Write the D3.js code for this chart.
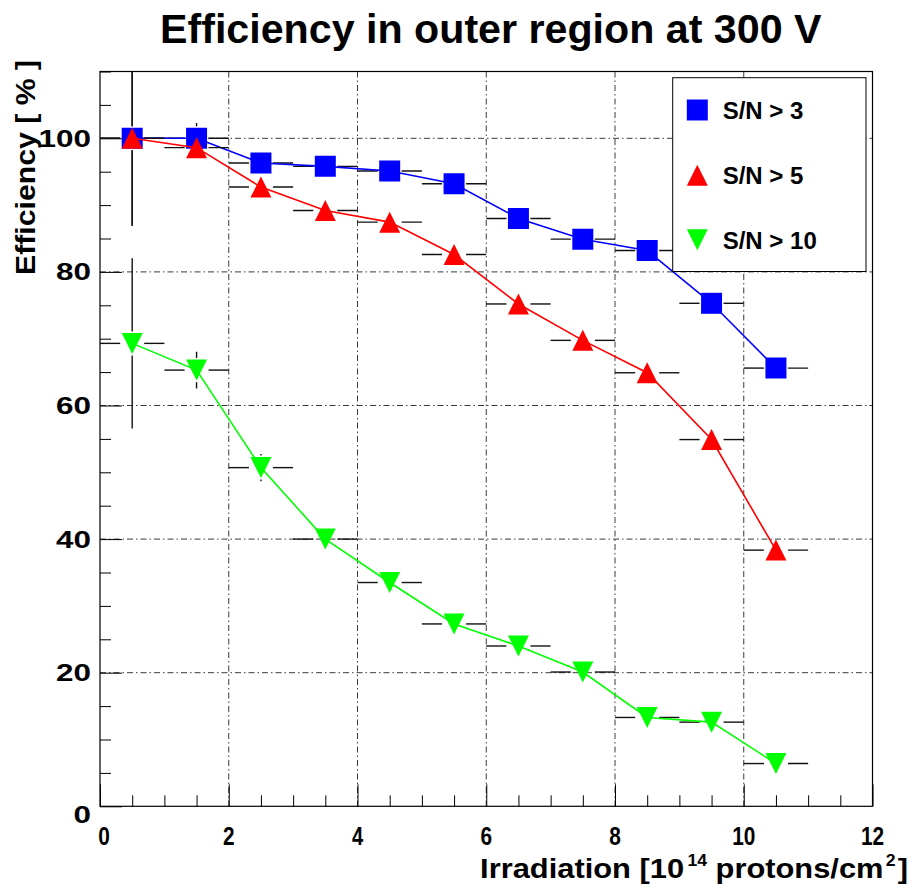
<!DOCTYPE html>
<html><head><meta charset="utf-8">
<script src="https://cdn.jsdelivr.net/npm/d3@7"></script>
<style>body{margin:0;background:#fff}</style>
</head><body>
<svg id="c" width="914" height="893" xmlns="http://www.w3.org/2000/svg"></svg>
<script>
// ---------------- data ----------------
const irradiation = [0.5, 1.5, 2.5, 3.5, 4.5, 5.5, 6.5, 7.5, 8.5, 9.5, 10.5];
const irradiationErr = [0.5, 0.5, 0.5, 0.5, 0.5, 0.5, 0.5, 0.5, 0.5, 0.5, 0.5];
const effSN3  = [100, 100, 96.3, 95.8, 95.1, 93.2, 88.0, 84.9, 83.2, 75.3, 65.6];
const effSN3Err  = [13.1, 2.3, 0.8, 0.8, 0.8, 0.8, 0.8, 0.8, 0.8, 0.8, 0.8];
const effSN5  = [100, 98.6, 92.7, 89.2, 87.45, 82.6, 75.2, 69.75, 64.9, 54.9, 38.35];
const effSN5Err  = [13.1, 1.2, 0.8, 0.8, 0.8, 0.8, 0.8, 0.8, 0.8, 0.8, 0.8];
const effSN10 = [69.3, 65.3, 50.7, 40.0, 33.5, 27.3, 24.0, 20.1, 13.3, 12.6, 6.4];
const effSN10Err = [12.75, 2.75, 2.05, 0.8, 0.8, 0.8, 0.8, 0.8, 0.8, 0.8, 0.8];
const seriesNames = ["S/N > 3", "S/N > 5", "S/N > 10"];
const xTickValues = [0, 2, 4, 6, 8, 10, 12];
const yTickValues = [0, 20, 40, 60, 80, 100];
const titleText = "Efficiency in outer region at 300 V";

// ---------------- layout ----------------
const svg = d3.select("#c");
const L = 100, R = 872.5, T = 71.5, B = 806.3;
const x = d3.scaleLinear().domain([0, 12]).range([L, R]);
const y = d3.scaleLinear().domain([0, 110]).range([B, T]);
const FONT = "'Liberation Sans', Arial, Helvetica, sans-serif";

svg.append("rect").attr("width", 914).attr("height", 893).attr("fill", "#fff");

function fitWidth(sel, target, ax, ay, anchor, rot) {
  const n = sel.node();
  const w = n.getBBox().width;
  const s = target / w;
  sel.attr("transform", `translate(${ax},${ay})` + (rot ? ` rotate(${rot})` : "") + ` scale(${s},1)`)
     .attr("text-anchor", anchor);
}

// grid
const grid = svg.append("g").attr("stroke", "#3a3a3a").attr("stroke-width", 1)
  .attr("stroke-dasharray", "6,3,1.5,3").attr("fill", "none");
x.ticks(6).filter(v => v > 0 && v < 12).forEach(v => {
  grid.append("line").attr("x1", x(v)).attr("x2", x(v)).attr("y1", T).attr("y2", B);
});
y.ticks(5).filter(v => v > 0 && v < 110).forEach(v => {
  grid.append("line").attr("x1", L).attr("x2", R).attr("y1", y(v)).attr("y2", y(v));
});

// axes ticks (inward)
const xMinor = d3.range(0, 12.01, 0.5);
const yMinor = d3.range(0, 110.01, 5);
const xAxisMinor = d3.axisTop(x).tickValues(xMinor.filter(v => v % 2 !== 0)).tickSize(11).tickFormat("");
const xAxisMajor = d3.axisTop(x).tickValues(xTickValues).tickSize(22).tickFormat("");
const yAxisMinor = d3.axisRight(y).tickValues(yMinor.filter(v => v % 20 !== 0)).tickSize(11).tickFormat("");
const yAxisMajor = d3.axisRight(y).tickValues(yTickValues).tickSize(22).tickFormat("");
[[xAxisMinor, `translate(0,${B})`], [xAxisMajor, `translate(0,${B})`],
 [yAxisMinor, `translate(${L},0)`], [yAxisMajor, `translate(${L},0)`]].forEach(([ax, tr]) => {
  const g = svg.append("g").attr("transform", tr).call(ax);
  g.select(".domain").remove();
  g.selectAll("line").attr("stroke", "#000").attr("stroke-width", 1);
});

// frame
svg.append("rect").attr("x", L).attr("y", T).attr("width", R - L).attr("height", B - T)
  .attr("fill", "none").attr("stroke", "#000").attr("stroke-width", 1.2);

// tick labels
xTickValues.forEach(v => {
  const t = svg.append("text").text(d3.format("d")(v))
    .attr("font-family", FONT).attr("font-weight", "bold").attr("font-size", 26).attr("fill", "#000");
  fitWidth(t, String(v).length * 11.6, x(v) + (v === 0 ? 4 : 0), 845, "middle");
});
yTickValues.forEach(v => {
  const t = svg.append("text").text(d3.format("d")(v))
    .attr("font-family", FONT).attr("font-weight", "bold").attr("font-size", 24).attr("fill", "#000");
  fitWidth(t, String(v).length * 17.5, 91, y(v) + 8.5 + (v === 0 ? 8 : 0), "end");
});

// title
{
  const t = svg.append("text").text(titleText)
    .attr("font-family", FONT).attr("font-weight", "bold").attr("font-size", 40).attr("fill", "#000");
  fitWidth(t, 662, 160, 43, "start");
}
// x axis title with superscripts
{
  const t = svg.append("text").attr("font-family", FONT).attr("font-weight", "bold")
    .attr("font-size", 28).attr("fill", "#000");
  t.append("tspan").text("Irradiation [10");
  t.append("tspan").text("14").attr("font-size", 16).attr("dy", -12).attr("dx", 3);
  t.append("tspan").text(" protons/cm").attr("dy", 12);
  t.append("tspan").text("2").attr("font-size", 16).attr("dy", -12).attr("dx", 2);
  t.append("tspan").text("]").attr("dy", 12).attr("dx", 2);
  fitWidth(t, 428, 908, 878, "end");
}
// y axis title
{
  const t = svg.append("text").text("Efficiency [ % ]")
    .attr("font-family", FONT).attr("font-weight", "bold").attr("font-size", 28).attr("fill", "#000");
  fitWidth(t, 215, 35, 60, "end", -90);
}

// ---------------- series ----------------
const clip = svg.append("clipPath").attr("id", "plotclip");
clip.append("rect").attr("x", L).attr("y", T).attr("width", R - L).attr("height", B - T);
const plot = svg.append("g").attr("clip-path", "url(#plotclip)");

const GAP = 12;
const MS = 21;
const symSquare = `M${-MS/2},${-MS/2}h${MS}v${MS}h${-MS}Z`;
const symUp = `M0,${-MS/2}L${MS/2},${MS/2}L${-MS/2},${MS/2}Z`;
const symDown = `M0,${MS/2}L${MS/2},${-MS/2}L${-MS/2},${-MS/2}Z`;

const series = [
  { name: seriesNames[0], vals: effSN3, errs: effSN3Err, color: "#0000ff", sym: symSquare },
  { name: seriesNames[1], vals: effSN5, errs: effSN5Err, color: "#ff0000", sym: symUp },
  { name: seriesNames[2], vals: effSN10, errs: effSN10Err, color: "#00ff00", sym: symDown },
];

series.forEach(s => {
  const g = plot.append("g");
  const pts = irradiation.map((xv, i) => ({ xv, ex: irradiationErr[i], v: s.vals[i], e: s.errs[i] }));
  const eb = g.append("g").attr("stroke", "#111").attr("stroke-width", 1.4);
  pts.forEach(p => {
    const cx = x(p.xv), cy = y(p.v);
    const xl = x(p.xv - p.ex), xr = x(p.xv + p.ex);
    if (cx - GAP > xl) eb.append("line").attr("x1", xl).attr("x2", cx - GAP).attr("y1", cy).attr("y2", cy);
    if (xr > cx + GAP) eb.append("line").attr("x1", cx + GAP).attr("x2", xr).attr("y1", cy).attr("y2", cy);
    const yt = y(p.v + p.e), yb = y(p.v - p.e);
    if (cy - GAP > yt) eb.append("line").attr("x1", cx).attr("x2", cx).attr("y1", yt).attr("y2", cy - GAP);
    if (yb > cy + GAP) eb.append("line").attr("x1", cx).attr("x2", cx).attr("y1", cy + GAP).attr("y2", yb);
  });
  g.append("path").datum(pts)
    .attr("d", d3.line().x(p => x(p.xv)).y(p => y(p.v)))
    .attr("fill", "none").attr("stroke", s.color).attr("stroke-width", 1.6);
  g.selectAll(".m").data(pts).join("path")
    .attr("d", s.sym)
    .attr("transform", p => `translate(${x(p.xv)},${y(p.v)})`)
    .attr("fill", s.color);
});

// ---------------- legend ----------------
const lg = svg.append("g");
lg.append("rect").attr("x", 672.7).attr("y", 77.7).attr("width", 866 - 672.7).attr("height", 271.5 - 77.7)
  .attr("fill", "#fff").attr("stroke", "#000").attr("stroke-width", 1);
const legendY = [110, 175.3, 239.7];
series.forEach((s, i) => {
  lg.append("path").attr("d", s.sym).attr("transform", `translate(697.3,${legendY[i]})`).attr("fill", s.color);
  lg.append("text").text(s.name).attr("x", 722.7).attr("y", legendY[i] + 9)
    .attr("font-family", FONT).attr("font-weight", "bold").attr("font-size", 24).attr("fill", "#000");
});
</script>
</body></html>
